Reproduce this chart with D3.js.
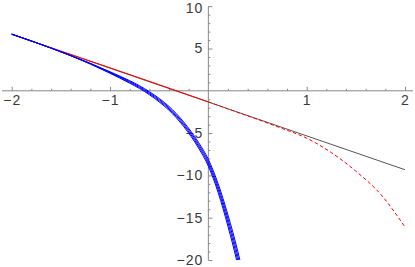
<!DOCTYPE html>
<html>
<head>
<meta charset="utf-8">
<script src="https://cdn.jsdelivr.net/npm/d3@7"></script>
<style>
  body { margin: 0; background: #fff; }
  svg { display: block; }
</style>
</head>
<body>
<script>
const width = 415;
const height = 267;

// tick values
const xMajor = [-2, -1, 1, 2];
const yMajor = [-20, -15, -10, -5, 5, 10];

// straight (black) line
const lineX = [-2, 2];
const lineY = [6.67, -9.33];

// red curve: solid for x <= 0, dashed for x >= 0
const redX = [-2, -1.5, -1, -0.5, 0];
const redY = [6.67, 4.7, 2.72, 0.72, -1.3];
const redDashX = [0, 0.25, 0.5, 0.75, 1, 1.25, 1.5, 1.75, 2];
const redDashY = [-1.3, -2.35, -3.38, -4.45, -5.6, -7.3, -9.5, -12.2, -16.1];

// blue bundle of curves
const blueX = [-2, -1.6, -1.2, -1.0, -0.8, -0.7, -0.6, -0.5, -0.4, -0.25, -0.1, 0, 0.1, 0.2, 0.3, 0.34];
const blue1 = [6.7, 5.05, 3.25, 2.25, 1.2, 0.6, -0.1, -0.9, -1.85, -3.7, -6.1, -8.1, -11.0, -14.7, -19.0, -21.0];
const blue2 = [6.7, 5.05, 3.22, 2.19, 1.1, 0.49, -0.22, -1.04, -2.0, -3.88, -6.32, -8.37, -11.35, -15.15, -19.55, -21.6];
const blue3 = [6.7, 5.05, 3.19, 2.13, 1.0, 0.38, -0.34, -1.18, -2.15, -4.06, -6.54, -8.64, -11.7, -15.6, -20.1, -22.2];
const blue4 = [6.7, 5.05, 3.16, 2.07, 0.9, 0.27, -0.46, -1.32, -2.3, -4.24, -6.76, -8.91, -12.05, -16.05, -20.65, -22.8];

const axisColor = "#888";
const textColor = "#3a3a3a";

const x = d3.scaleLinear().domain([-2, 2]).range([11.7, 405]);
const y = d3.scaleLinear().domain([-20, 10]).range([260, 6.2]);

const svg = d3.select("body").append("svg")
    .attr("width", width)
    .attr("height", height);

svg.append("defs").append("clipPath").attr("id", "clip")
  .append("rect").attr("x", 0).attr("y", y(10)).attr("width", width).attr("height", y(-20) - y(10));

// axis lines
svg.append("line")
    .attr("x1", 2).attr("x2", 413)
    .attr("y1", y(0)).attr("y2", y(0))
    .attr("stroke", axisColor);
svg.append("line")
    .attr("x1", x(0)).attr("x2", x(0))
    .attr("y1", y(10)).attr("y2", y(-20))
    .attr("stroke", axisColor);

// minor ticks
const xMinor = d3.range(-2, 2.001, 0.2).filter(v => Math.abs(v - Math.round(v)) > 1e-6);
const yMinor = d3.range(-20, 10.001, 1).filter(v => v % 5 !== 0);

const xAxisMinor = d3.axisBottom(x).tickValues(xMinor).tickSizeInner(-2).tickSizeOuter(0).tickFormat("");
const yAxisMinor = d3.axisLeft(y).tickValues(yMinor).tickSizeInner(-2).tickSizeOuter(0).tickFormat("");

const fmt = d => (d < 0 ? "\u2212" + Math.abs(d) : String(d));
const xAxis = d3.axisBottom(x).tickValues(xMajor).tickSizeInner(-4).tickSizeOuter(0).tickPadding(4).tickFormat(fmt);
const yAxis = d3.axisLeft(y).tickValues(yMajor).tickSizeInner(-4).tickSizeOuter(0).tickPadding(5).tickFormat(fmt);

function styleAxis(g) {
  g.select(".domain").remove();
  g.selectAll(".tick line").attr("stroke", axisColor);
  g.selectAll(".tick text")
    .attr("fill", textColor)
    .style("font-family", "'Liberation Sans', Arial, sans-serif")
    .style("font-size", "14px")
    .style("letter-spacing", "1px");
}

svg.append("g").attr("transform", `translate(0,${y(0)})`).call(xAxisMinor).call(styleAxis);
svg.append("g").attr("transform", `translate(${x(0)},0)`).call(yAxisMinor).call(styleAxis);
svg.append("g").attr("transform", `translate(0,${y(0)})`).call(xAxis).call(styleAxis);
svg.append("g").attr("transform", `translate(${x(0)},0)`).call(yAxis).call(styleAxis)
  .selectAll(".tick text")
    .filter(d => d === 10)
    .attr("y", 2); // keep the top label inside the window

const line = d3.line().x(d => x(d[0])).y(d => y(d[1]));
const curve = d3.line().curve(d3.curveMonotoneX).x(d => x(d[0])).y(d => y(d[1]));

const plot = svg.append("g").attr("clip-path", "url(#clip)");

plot.append("path")
    .attr("d", line(d3.zip(lineX, lineY)))
    .attr("fill", "none")
    .attr("stroke", "#555")
    .attr("stroke-width", 1);

plot.append("path")
    .attr("d", curve(d3.zip(redX, redY)))
    .attr("fill", "none")
    .attr("stroke", "#f00")
    .attr("stroke-width", 1);

plot.append("path")
    .attr("d", curve(d3.zip(redDashX, redDashY)))
    .attr("fill", "none")
    .attr("stroke", "#f00")
    .attr("stroke-width", 1)
    .attr("stroke-dasharray", "3.5,2.5");

[blue1, blue2, blue3, blue4].forEach(ys => {
  plot.append("path")
      .attr("d", curve(d3.zip(blueX, ys)))
      .attr("fill", "none")
      .attr("stroke", "#00f")
      .attr("stroke-width", 1);
});
</script>
</body>
</html>
